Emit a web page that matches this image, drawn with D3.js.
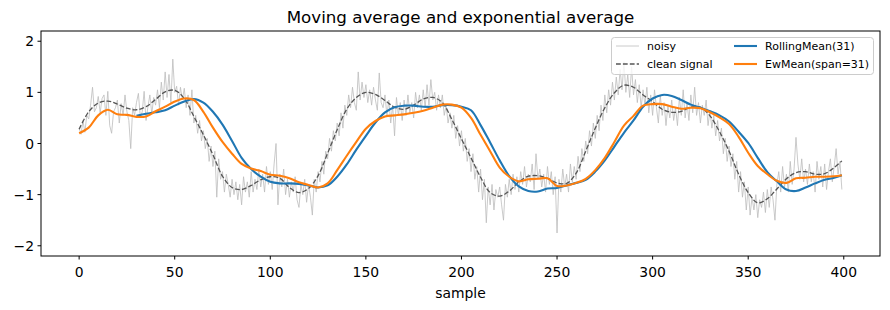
<!DOCTYPE html>
<html>
<head>
<meta charset="utf-8">
<script src="https://cdn.jsdelivr.net/npm/d3@7"></script>
<style>
  body { margin: 0; background: #fff; }
  text { font-family: "DejaVu Sans", sans-serif; fill: #000; }
</style>
</head>
<body>
<div id="chart"></div>
<script>
// noisy samples, one per index 0..399
var noisy = [
  0.30, 0.18, 0.45, 0.22, 0.55, 0.48, 0.75, 1.10, 0.62, 0.70,
  0.92, 0.60, 0.88, 0.95, 0.55, 1.02, 0.35, 0.20, 0.62, 0.70,
  0.85, 0.40, 0.78, 0.55, 0.95, 0.62, 0.45, -0.10, 0.70, 0.55,
  0.80, 0.98, 0.52, 0.62, 1.02, 0.45, 0.72, 0.95, 0.58, 0.90,
  0.75, 1.05, 0.70, 1.20, 0.85, 1.40, 0.90, 1.35, 0.80, 1.65,
  1.00, 1.12, 0.75, 1.10, 0.85, 1.08, 0.70, 0.95, 0.55, 1.05,
  0.40, 0.55, 0.20, 0.45, 0.05, 0.25, -0.10, 0.10, -0.35, -0.05,
  -0.45, -0.15, -1.05, -0.30, -0.70, -0.55, -0.95, -0.60, -0.80, -1.05,
  -0.70, -1.00, -0.75, -1.10, -0.80, -1.20, -0.65, -0.95, -0.75, -1.05,
  -0.55, -0.95, -0.70, -0.90, -0.50, -0.85, -0.60, -0.95, -0.45, -0.80,
  -0.55, -0.90, -0.40, 0.00, -1.20, -0.60, -0.85, -0.50, -1.00, -0.70,
  -1.05, -0.75, -0.95, -0.65, -1.10, -1.25, -0.80, -1.00, -0.70, -1.15,
  -0.80, -1.05, -1.40, -0.70, -0.95, -0.55, -0.75, -0.35, -0.60, -0.15,
  -0.30, 0.10, -0.15, 0.25, 0.05, 0.40, 0.15, 0.60, 0.30, 0.75,
  0.55, 0.95, 0.70, 1.10, 0.80, 0.65, 1.40, 0.85, 1.20, 0.90,
  1.15, 0.80, 1.05, 0.75, 1.10, 0.85, 0.65, 1.38, 0.80, 0.70,
  0.95, 0.55, 0.85, 0.40, 0.75, 0.15, 0.90, 0.55, 0.80, 0.45,
  0.85, 0.55, 0.95, 0.60, 0.80, 0.50, 1.00, 0.70, 0.95, 0.65,
  1.05, 0.70, 1.15, 0.75, 1.25, 0.85, 1.00, 0.65, 0.95, 0.70,
  0.95, 0.55, 0.75, 0.40, 0.60, 0.30, 0.55, 0.10, 0.35, -0.05,
  0.25, -0.15, 0.10, -0.35, -0.10, -0.55, -0.20, -0.70, -0.45, -0.95,
  -0.50, -1.10, -0.70, -1.55, -0.85, -1.20, -0.80, -1.30, -0.90, -1.05,
  -0.85, -1.20, -1.50, -0.80, -1.05, -0.70, -1.00, -0.60, -0.90, -0.65,
  -0.95, -0.55, -0.80, -0.45, -0.85, -0.60, -0.75, -0.40, -0.90, -0.20,
  -0.70, -0.50, -0.85, -0.60, -0.95, -0.45, -0.80, -0.55, -1.00, -0.65,
  -1.75, -0.70, -0.95, -0.50, -0.85, -0.60, -0.95, -0.40, -0.75, -0.45,
  -0.70, -0.25, -0.55, -0.10, -0.35, 0.05, -0.20, 0.25, -0.05, 0.40,
  0.10, 0.55, 0.25, 0.75, 0.45, 0.95, 0.60, 1.05, 0.75, 1.20,
  0.85, 1.30, 0.95, 1.45, 1.05, 1.60, 1.00, 1.35, 0.90, 1.50,
  0.95, 1.25, 0.80, 1.15, 0.70, 1.05, 0.75, 1.10, 0.60, 0.95,
  0.55, 1.05, 0.70, 0.40, 0.95, 0.55, 0.80, 0.35, 0.75, 0.50,
  0.85, 0.45, 0.70, 0.35, 0.90, 0.55, 1.05, 0.50, 0.80, 0.45,
  0.95, 0.60, 1.10, 0.55, 0.80, 0.40, 0.75, 0.55, 0.85, 0.35,
  0.65, 0.30, 0.55, 0.15, 0.45, 0.05, 0.30, -0.20, 0.10, -0.35,
  -0.05, -0.45, -0.20, -0.70, -0.35, -0.95, -0.55, -1.05, -0.75, -1.30,
  -0.85, -1.40, -1.05, -1.30, -1.00, -1.45, -1.10, -1.25, -0.95, -1.35,
  -0.90, -1.25, -0.85, -1.10, -1.50, -0.80, -0.55, -0.95, -0.45, -0.85,
  -0.60, -0.95, -0.35, -0.80, -0.50, 0.12, -0.40, -0.70, -0.30, -0.75,
  -0.50, -0.80, -0.40, -0.75, -0.55, -0.95, -0.35, -0.70, -0.45, -0.85,
  -0.40, -0.90, -0.55, -0.30, -0.75, -0.45, -0.10, -0.60, -0.35, -0.90
];

// clean signal, read every 5 samples
var cleanX = [0,5,10,15,20,25,30,35,40,45,50,55,60,65,70,75,80,85,90,95,
  100,105,110,115,120,125,130,135,140,145,150,155,160,165,170,175,180,185,190,195,
  200,205,210,215,220,225,230,235,240,245,250,255,260,265,270,275,280,285,290,295,
  300,305,310,315,320,325,330,335,340,345,350,355,360,365,370,375,380,385,390,395,399];
var clean = [0.28,0.62,0.79,0.83,0.77,0.69,0.66,0.72,0.86,1.01,1.04,0.88,0.53,0.17,-0.22,-0.64,-0.86,-0.90,-0.82,-0.71,
  -0.65,-0.68,-0.86,-0.96,-0.88,-0.63,-0.19,0.27,0.67,0.90,1.00,0.96,0.84,0.71,0.67,0.75,0.87,0.90,0.80,0.47,
  0.09,-0.28,-0.66,-0.96,-1.03,-0.93,-0.75,-0.64,-0.63,-0.68,-0.77,-0.78,-0.58,-0.15,0.30,0.70,0.99,1.14,1.10,0.95,
  0.82,0.67,0.61,0.63,0.71,0.71,0.54,0.23,-0.15,-0.60,-0.96,-1.16,-1.08,-0.89,-0.69,-0.57,-0.55,-0.60,-0.59,-0.47,-0.34];

// RollingMean(31), starts at sample 30
var rollX = [30,35,40,45,50,55,60,65,70,75,80,85,90,95,
  100,105,110,115,120,125,130,135,140,145,150,155,160,165,170,175,180,185,190,195,
  200,205,210,215,220,225,230,235,240,245,250,255,260,265,270,275,280,285,290,295,
  300,305,310,315,320,325,330,335,340,345,350,355,360,365,370,375,380,385,390,395,399];
var rolling = [0.54,0.58,0.61,0.65,0.74,0.82,0.87,0.80,0.62,0.37,0.05,-0.28,-0.50,-0.65,
  -0.75,-0.78,-0.78,-0.79,-0.82,-0.86,-0.82,-0.65,-0.41,-0.12,0.15,0.41,0.61,0.71,0.74,0.74,0.72,0.72,0.75,0.75,
  0.72,0.65,0.36,0.02,-0.33,-0.64,-0.84,-0.93,-0.94,-0.88,-0.87,-0.82,-0.77,-0.71,-0.55,-0.33,-0.06,0.21,0.45,0.72,
  0.88,0.95,0.93,0.85,0.76,0.70,0.63,0.55,0.43,0.23,0.01,-0.28,-0.56,-0.74,-0.90,-0.93,-0.86,-0.78,-0.71,-0.67,-0.62];

// EwMean(span=31), read every 5 samples
var ewX = cleanX;
var ewm = [0.20,0.31,0.55,0.66,0.57,0.56,0.52,0.53,0.63,0.72,0.82,0.88,0.85,0.62,0.31,0.03,-0.20,-0.40,-0.49,-0.54,
  -0.61,-0.63,-0.68,-0.76,-0.81,-0.86,-0.78,-0.52,-0.24,0.03,0.29,0.44,0.53,0.55,0.57,0.60,0.64,0.70,0.76,0.76,
  0.70,0.50,0.17,-0.15,-0.47,-0.65,-0.74,-0.70,-0.69,-0.68,-0.83,-0.82,-0.77,-0.69,-0.52,-0.28,0.03,0.35,0.54,0.74,
  0.77,0.77,0.72,0.68,0.70,0.69,0.61,0.51,0.38,0.13,-0.18,-0.44,-0.60,-0.73,-0.77,-0.68,-0.67,-0.65,-0.65,-0.64,-0.62];

var xTicks = [0,50,100,150,200,250,300,350,400];
var yTicks = [-2,-1,0,1,2];

var width = 890, height = 310,
    plotLeft = 41, plotRight = 880, plotTop = 31, plotBottom = 256;

var svg = d3.select("#chart")
  .append("svg")
  .attr("width", width)
  .attr("height", height);

var x = d3.scaleLinear().domain([-19.95, 418.95]).range([plotLeft, plotRight]);
var y = d3.scaleLinear().domain([-2.2, 2.2]).range([plotBottom, plotTop]);

// clip lines to the axes box
svg.append("clipPath").attr("id", "plotclip")
  .append("rect")
  .attr("x", plotLeft).attr("y", plotTop)
  .attr("width", plotRight - plotLeft).attr("height", plotBottom - plotTop);

var plot = svg.append("g").attr("clip-path", "url(#plotclip)");

var lineIdx = d3.line()
  .x(function(d, i) { return x(i); })
  .y(function(d) { return y(d); });

// noisy
plot.append("path")
  .datum(noisy)
  .attr("d", lineIdx)
  .attr("fill", "none")
  .attr("stroke", "#bdbdbd")
  .attr("stroke-width", 0.8);

function pairLine(xs, ys) {
  return d3.line()
    .curve(d3.curveCatmullRom)
    .x(function(d, i) { return x(xs[i]); })
    .y(function(d) { return y(d); })(ys);
}

// clean signal
plot.append("path")
  .attr("d", pairLine(cleanX, clean))
  .attr("fill", "none")
  .attr("stroke", "#555")
  .attr("stroke-width", 1.3)
  .attr("stroke-dasharray", "4.8,2.1");

// rolling mean
plot.append("path")
  .attr("d", pairLine(rollX, rolling))
  .attr("fill", "none")
  .attr("stroke", "#1f77b4")
  .attr("stroke-width", 2.1);

// ewm
plot.append("path")
  .attr("d", pairLine(ewX, ewm))
  .attr("fill", "none")
  .attr("stroke", "#ff7f0e")
  .attr("stroke-width", 2.1);

// axes frame
svg.append("rect")
  .attr("x", plotLeft).attr("y", plotTop)
  .attr("width", plotRight - plotLeft).attr("height", plotBottom - plotTop)
  .attr("fill", "none")
  .attr("stroke", "#000")
  .attr("stroke-width", 1);

// x ticks
var xg = svg.append("g");
xg.selectAll("line")
  .data(xTicks).enter()
  .append("line")
  .attr("x1", function(d) { return x(d); })
  .attr("x2", function(d) { return x(d); })
  .attr("y1", plotBottom)
  .attr("y2", plotBottom + 3.5)
  .attr("stroke", "#000");
xg.selectAll("text")
  .data(xTicks).enter()
  .append("text")
  .attr("x", function(d) { return x(d); })
  .attr("y", 277)
  .attr("text-anchor", "middle")
  .style("font-size", "13.9px")
  .text(function(d) { return d; });

// y ticks
var yg = svg.append("g");
yg.selectAll("line")
  .data(yTicks).enter()
  .append("line")
  .attr("x1", plotLeft - 3.5)
  .attr("x2", plotLeft)
  .attr("y1", function(d) { return y(d); })
  .attr("y2", function(d) { return y(d); })
  .attr("stroke", "#000");
yg.selectAll("text")
  .data(yTicks).enter()
  .append("text")
  .attr("x", plotLeft - 7)
  .attr("y", function(d) { return y(d) + 5; })
  .attr("text-anchor", "end")
  .style("font-size", "13.9px")
  .text(function(d) { return d < 0 ? "\u2212" + Math.abs(d) : d; });

// title + x label
svg.append("text")
  .attr("x", (plotLeft + plotRight) / 2)
  .attr("y", 23)
  .attr("text-anchor", "middle")
  .style("font-size", "16.7px")
  .text("Moving average and exponential average");

svg.append("text")
  .attr("x", (plotLeft + plotRight) / 2)
  .attr("y", 298)
  .attr("text-anchor", "middle")
  .style("font-size", "13.9px")
  .text("sample");

// legend
var legendItems = [
  {label: "noisy", color: "#bdbdbd", w: 0.8, dash: null, col: 0, row: 0},
  {label: "clean signal", color: "#555", w: 1.3, dash: "4.8,2.1", col: 0, row: 1},
  {label: "RollingMean(31)", color: "#1f77b4", w: 2.1, dash: null, col: 1, row: 0},
  {label: "EwMean(span=31)", color: "#ff7f0e", w: 2.1, dash: null, col: 1, row: 1}
];
var lg = svg.append("g");
lg.append("rect")
  .attr("x", 611.5).attr("y", 37.5)
  .attr("width", 262).attr("height", 37)
  .attr("rx", 3)
  .attr("fill", "#fff").attr("fill-opacity", 0.8)
  .attr("stroke", "#ccc");
var colX = [616, 734];
var rowY = [46, 64];
lg.selectAll("line")
  .data(legendItems).enter()
  .append("line")
  .attr("x1", function(d) { return colX[d.col]; })
  .attr("x2", function(d) { return colX[d.col] + 23; })
  .attr("y1", function(d) { return rowY[d.row]; })
  .attr("y2", function(d) { return rowY[d.row]; })
  .attr("stroke", function(d) { return d.color; })
  .attr("stroke-width", function(d) { return d.w; })
  .attr("stroke-dasharray", function(d) { return d.dash; });
lg.selectAll("text")
  .data(legendItems).enter()
  .append("text")
  .attr("x", function(d) { return colX[d.col] + 31; })
  .attr("y", function(d) { return rowY[d.row] + 4; })
  .style("font-size", "11px")
  .text(function(d) { return d.label; });
</script>
</body>
</html>
